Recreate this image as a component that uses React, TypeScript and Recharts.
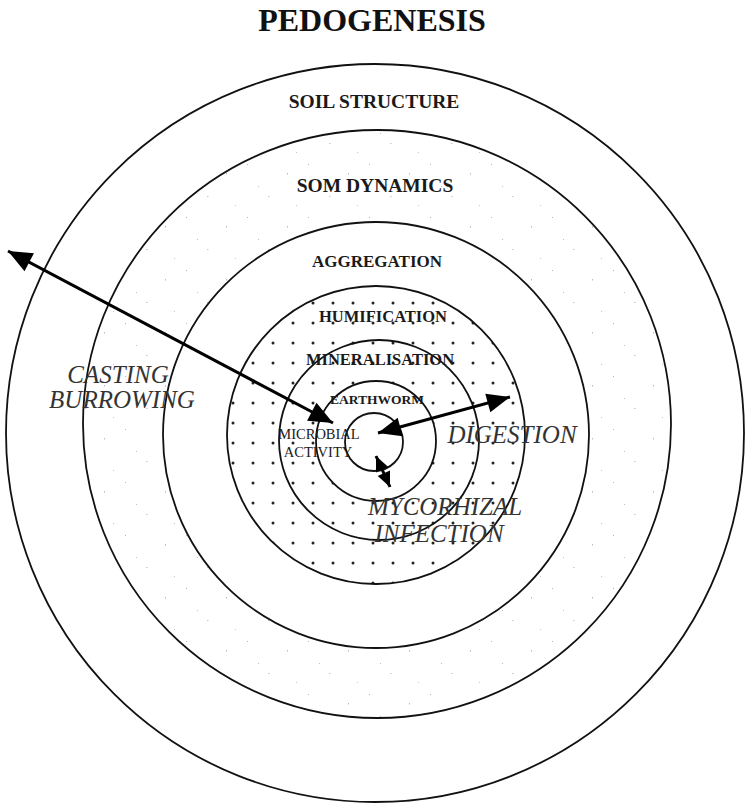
import React from "react";
import { ScatterChart, Scatter, XAxis, YAxis } from "recharts";

const W = 745;
const H = 806;
const X_MAX = 745;
const Y_MAX = 806;
const PX = W / X_MAX;
const PY = H / Y_MAX;

// concentric circles, outermost first (centre and radius in picture units)
const ringNames = ["pedogenesis", "soil structure", "som dynamics", "aggregation", "humification", "mineralisation", "earthworm"];
const ringCx = [375, 377, 376, 376, 379, 376, 374];
const ringCy = [433, 424, 435, 435, 440, 441, 442];
const ringR = [369, 294, 213, 149, 100, 60, 29];

// text: centre x, baseline y
const labelText = [
    "PEDOGENESIS", "SOIL STRUCTURE", "SOM DYNAMICS", "AGGREGATION", "HUMIFICATION", "MINERALISATION",
    "EARTHWORM", "MICROBIAL", "ACTIVITY", "CASTING", "BURROWING", "DIGESTION", "MYCORHIZAL", "INFECTION",
];
const labelX = [372, 374, 375, 377, 383, 380, 377, 319, 318, 118, 122, 512, 445, 439];
const labelY = [31, 108, 192, 267, 322, 365, 404, 439, 457, 383, 408, 443, 515, 542];
const labelKind = [
    "title", "ring", "ring", "agg", "inner", "inner",
    "small", "tiny", "tiny", "process", "process", "process", "process", "process",
];

// double headed arrows
const arrowNames = ["casting / burrowing", "digestion", "mycorhizal infection"];
const arrowX1 = [333, 378, 376];
const arrowY1 = [423, 433, 456];
const arrowX2 = [8, 510, 390];
const arrowY2 = [251, 397, 487];

const ringFill: Record<string, string> = {
    "pedogenesis": "#fff",
    "soil structure": "url(#speckle)",
    "som dynamics": "#fff",
    "aggregation": "url(#dots)",
    "humification": "none",
    "mineralisation": "#fff",
    "earthworm": "#fff",
};

const textStyle: Record<string, React.CSSProperties> = {
    title: { fontSize: 32, fontWeight: 700, fill: "#111" },
    ring: { fontSize: 19.5, fontWeight: 700, fill: "#1a1a1a" },
    agg: { fontSize: 17, fontWeight: 700, fill: "#1a1a1a" },
    inner: { fontSize: 16.5, fontWeight: 700, fill: "#1a1a1a" },
    small: { fontSize: 13.5, fontWeight: 700, fill: "#1a1a1a" },
    tiny: { fontSize: 14.5, fontWeight: 400, fill: "#1a1a1a" },
    process: { fontSize: 25, fontStyle: "italic", fontWeight: 400, fill: "#333" },
};

const headSize = [24, 23, 15];
const headWidth = [0.42, 0.42, 0.45];

const rings = ringNames.map((name, i) => ({ name, x: ringCx[i], y: ringCy[i], r: ringR[i] }));
const labels = labelText.map((text, i) => ({ text, x: labelX[i], y: labelY[i], kind: labelKind[i] }));
const arrows = arrowNames.map((name, i) => [
    { name, arrow: i, x: arrowX1[i], y: arrowY1[i], fromX: arrowX2[i], fromY: arrowY2[i] },
    { name, arrow: i, x: arrowX2[i], y: arrowY2[i], fromX: arrowX1[i], fromY: arrowY1[i] },
]);

const Ring = (props: any) => {
    const { cx, cy, payload } = props;
    return (
        <circle cx={cx} cy={cy} r={payload.r * PX} fill={ringFill[payload.name]} stroke="#111" strokeWidth={1.8} />
    );
};

const Label = (props: any) => {
    const { cx, cy, payload } = props;
    return (
        <text x={cx} y={cy} textAnchor="middle" fontFamily="'Liberation Serif', 'Times New Roman', serif" style={textStyle[payload.kind]}>
            {payload.text}
        </text>
    );
};

const ArrowHead = (props: any) => {
    const { cx, cy, payload } = props;
    const dx = (payload.x - payload.fromX) * PX;
    const dy = (payload.y - payload.fromY) * PY;
    const len = Math.hypot(dx, dy) || 1;
    const ux = dx / len;
    const uy = dy / len;
    const L = headSize[payload.arrow];
    const hw = L * headWidth[payload.arrow];
    const bx = cx - ux * L;
    const by = cy - uy * L;
    const pts = `${cx},${cy} ${bx - uy * hw},${by + ux * hw} ${bx + uy * hw},${by - ux * hw}`;
    return <polygon points={pts} fill="#000" />;
};

export default function App() {
    return (
        <div style={{ width: W, height: H, background: "#fff" }}>
            <style>{"body{margin:0;background:#fff}"}</style>
            <ScatterChart width={W} height={H} margin={{ top: 0, right: 0, bottom: 0, left: 0 }}>
                <defs>
                    <pattern id="dots" x={3} y={13} width={20} height={20} patternUnits="userSpaceOnUse">
                        <rect width={20} height={20} fill="#fff" />
                        <circle cx={10} cy={10} r={1.5} fill="#222" />
                    </pattern>
                    <pattern id="speckle" x={0} y={0} width={61} height={53} patternUnits="userSpaceOnUse">
                        <rect width={61} height={53} fill="#fff" />
                        <rect x={3} y={5} width={1} height={1} fill="#b5b5b5" />
                        <rect x={24} y={37} width={1.5} height={1} fill="#c4c4c4" />
                        <rect x={43} y={14} width={1} height={1.5} fill="#bcbcbc" />
                        <rect x={52} y={46} width={1} height={1} fill="#c8c8c8" />
                        <rect x={14} y={27} width={1} height={1} fill="#c0c0c0" />
                    </pattern>
                </defs>
                <XAxis type="number" dataKey="x" domain={[0, X_MAX]} hide allowDataOverflow />
                <YAxis type="number" dataKey="y" domain={[0, Y_MAX]} reversed hide allowDataOverflow />
                <Scatter data={rings} shape={Ring} isAnimationActive={false} />
                <Scatter data={labels} shape={Label} isAnimationActive={false} />
                {arrows.map((pts, i) => (
                    <Scatter
                        key={i}
                        data={pts}
                        line={{ stroke: "#000", strokeWidth: 3 }}
                        shape={ArrowHead}
                        isAnimationActive={false}
                    />
                ))}
            </ScatterChart>
        </div>
    );
}
